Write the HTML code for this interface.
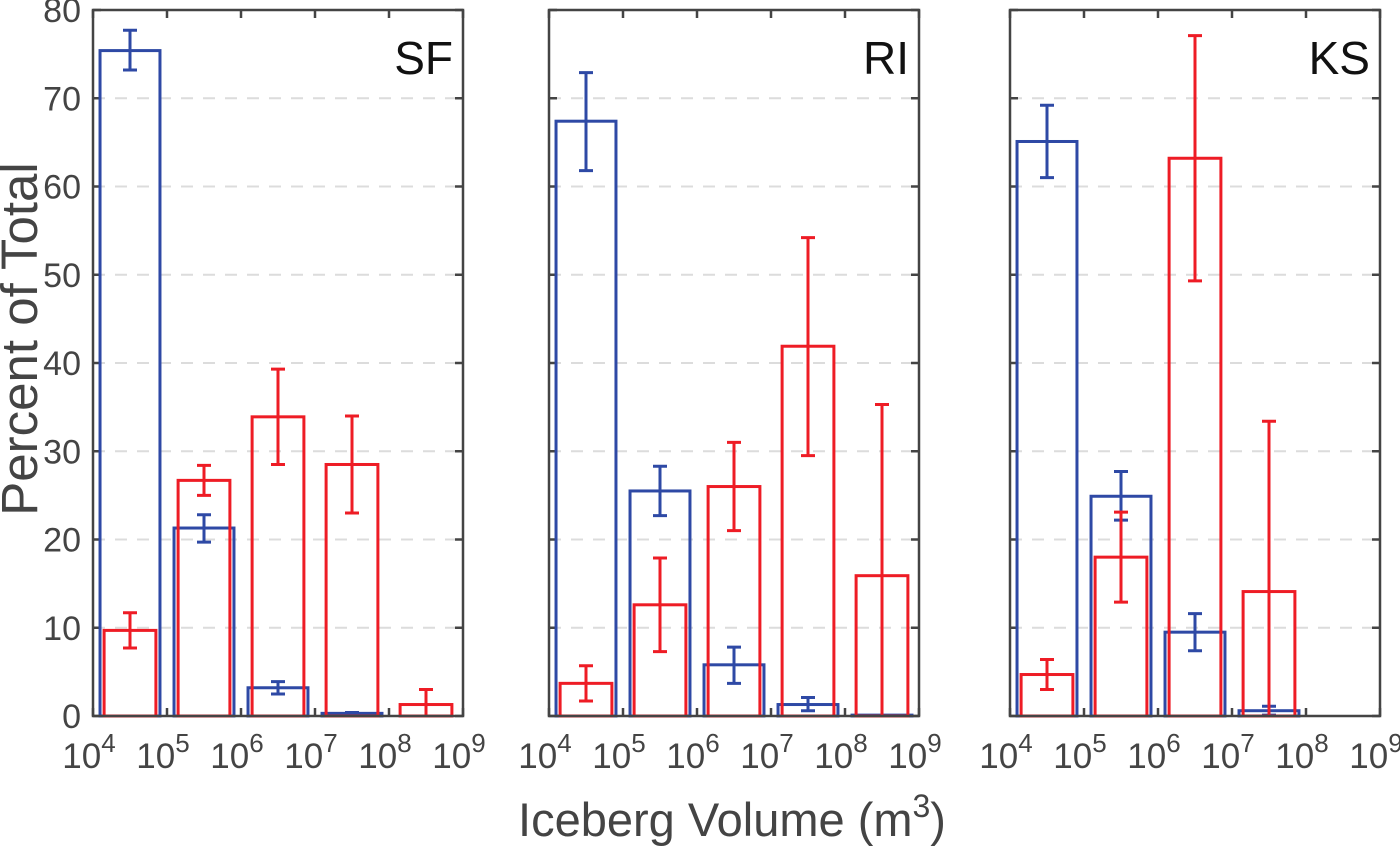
<!DOCTYPE html>
<html><head><meta charset="utf-8">
<style>
html,body{margin:0;padding:0;background:#fff;}
svg{display:block;font-family:"Liberation Sans",Arial,sans-serif;}
</style></head>
<body>
<svg id="chart" width="1400" height="848" viewBox="0 0 1400 848" xmlns="http://www.w3.org/2000/svg">
<text x="0" y="0" transform="translate(37,339) rotate(-90)" text-anchor="middle" font-size="51" fill="#444">Percent of Total</text>
<text x="732" y="836" text-anchor="middle" font-size="47" fill="#444">Iceberg Volume (m<tspan dy="-19" font-size="32">3</tspan><tspan dy="19">)</tspan></text>
</svg>
<script>
const panels = ["SF","RI","KS"];
const binCenters = [4.5,5.5,6.5,7.5,8.5]; // log10 volume
const blueVals = [[75.4,21.3,3.2,0.3,0],[67.4,25.5,5.8,1.3,0.1],[65.1,24.9,9.5,0.6,0]];
const blueLo = [[73.2,19.7,2.5,0.2,null],[61.8,22.7,3.7,0.6,null],[61.0,22.2,7.4,0.1,null]];
const blueHi = [[77.7,22.8,3.9,0.4,null],[72.9,28.3,7.8,2.1,null],[69.2,27.7,11.6,1.1,null]];
const redVals = [[9.7,26.7,33.9,28.5,1.3],[3.7,12.6,26.0,41.9,15.9],[4.7,18.0,63.2,14.1,0]];
const redLo = [[7.7,25.0,28.5,23.0,0],[1.7,7.3,21.0,29.5,0],[3.0,12.9,49.3,0,null]];
const redHi = [[11.7,28.4,39.3,34.0,3.0],[5.7,17.9,31.0,54.2,35.3],[6.4,23.1,77.1,33.4,null]];
const yTicks = [0,10,20,30,40,50,60,70,80];
const xTicks = [4,5,6,7,8,9];

const NS="http://www.w3.org/2000/svg";
const svg=document.getElementById('chart');
const lefts=[93,549,1010], W=370, TOP=10, BOT=716;
function el(tag,attrs,parent){const e=document.createElementNS(NS,tag);for(const k in attrs)e.setAttribute(k,attrs[k]);(parent||svg).appendChild(e);return e;}
function yS(v){return BOT-(v/80)*(BOT-TOP);}
panels.forEach((name,p)=>{
  const L=lefts[p];
  const xS=d=>L+(d-4)/5*W;
  const g=el('g',{});
  
  
  yTicks.forEach(t=>{
    if(t>0&&t<80){
      const gl=el('line',{x1:L,x2:L+W,y1:yS(t),y2:yS(t),stroke:'#dcdcdc','stroke-width':2,'stroke-dasharray':'12,10'},g);
      
      
    }
    el('line',{x1:L,x2:L+8,y1:yS(t),y2:yS(t),stroke:'#444','stroke-width':2.5},g);
    el('line',{x1:L+W-8,x2:L+W,y1:yS(t),y2:yS(t),stroke:'#444','stroke-width':2.5},g);
    if(p===0){
      const tl=el('text',{x:L-12,y:yS(t)+12,'text-anchor':'end','font-size':34,fill:'#444'},g);
      tl.textContent=t;
      
      
    }
  });
  xTicks.forEach(d=>{
    el('line',{x1:xS(d),x2:xS(d),y1:BOT,y2:BOT-8,stroke:'#444','stroke-width':2.5},g);
    el('line',{x1:xS(d),x2:xS(d),y1:TOP,y2:TOP+8,stroke:'#444','stroke-width':2.5},g);
    const tl=el('text',{x:xS(d)-4,y:BOT+52,'text-anchor':'middle','font-size':35,fill:'#444'},g);
    
    
    tl.innerHTML='10<tspan dy="-16" font-size="26">'+d+'</tspan>';
  });
  function series(vals,lo,hi,color,inset,label){
    binCenters.forEach((c,i)=>{
      const v=vals[p][i];
      const x0=xS(c-0.5+inset), x1=xS(c+0.5-inset);
      const r=el('rect',{x:x0,y:yS(v),width:x1-x0,height:BOT-yS(v),fill:'none',stroke:color,'stroke-width':3},g);
      
      
      if(lo[p][i]!==null){
        const xc=xS(c), ylo=yS(lo[p][i]), yhi=yS(hi[p][i]);
        const eb=el('path',{d:`M${xc},${ylo}V${yhi}M${xc-7},${ylo}H${xc+7}M${xc-7},${yhi}H${xc+7}`,stroke:color,'stroke-width':3,fill:'none'},g);
        
        
      }
    });
  }
  series(blueVals,blueLo,blueHi,'#2e49a5',0.095,'blue');
  series(redVals,redLo,redHi,'#ee1c25',0.15,'red');
  const fr=el('rect',{x:L,y:TOP,width:W,height:BOT-TOP,fill:'none',stroke:'#444','stroke-width':2.5},g);
  
  
  const tt=el('text',{x:L+W-10,y:TOP+64,'text-anchor':'end','font-size':46,fill:'#111'},g);
  tt.textContent=name;
  
  
});
</script>
</body></html>
